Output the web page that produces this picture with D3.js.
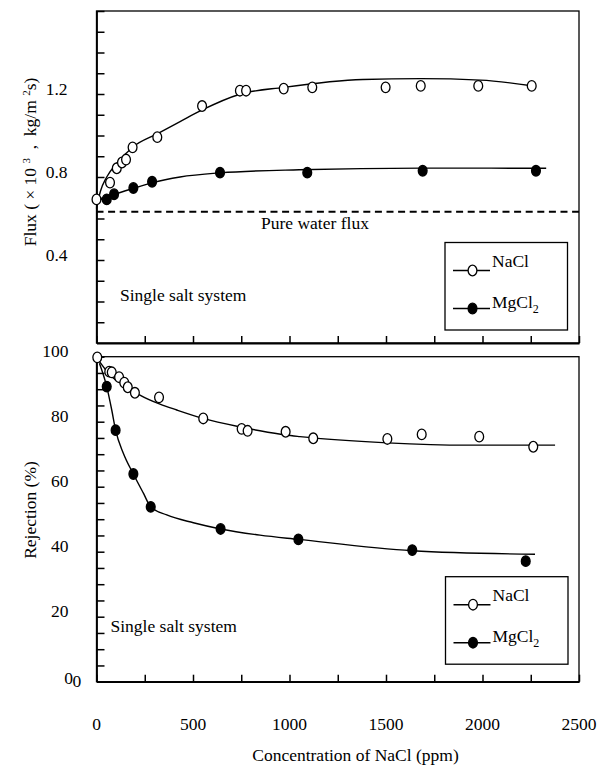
<!DOCTYPE html>
<html>
<head>
<meta charset="utf-8">
<script src="https://cdn.jsdelivr.net/npm/d3@7"></script>
<style>
  body { margin: 0; background: #fff; }
  text { font-family: "Liberation Serif", "Times New Roman", serif; fill: #000; }
</style>
</head>
<body>
<div id="body"></div>
<script>
// ---------- data ----------
var xTicks = [0, 500, 1000, 1500, 2000, 2500];
var fluxTicks = [0.4, 0.8, 1.2];
var rejTicks = [0, 20, 40, 60, 80, 100];

// flux, NaCl (open circles)
var fluxNaClConc = [0, 70, 105, 132, 153, 187, 315, 547, 743, 775, 970, 1118, 1498, 1680, 1978, 2255];
var fluxNaCl = [0.692, 0.773, 0.842, 0.87, 0.884, 0.943, 0.992, 1.142, 1.216, 1.216, 1.226, 1.232, 1.232, 1.239, 1.239, 1.239];
// flux, MgCl2 (filled circles)
var fluxMgConc = [53, 91, 191, 288, 640, 1092, 1690, 2277];
var fluxMg = [0.692, 0.717, 0.747, 0.777, 0.821, 0.821, 0.830, 0.830];
// fitted curves (flux)
var fluxNaClFitConc = [0, 20, 53, 105, 191, 312, 433, 547, 743, 970, 1380, 1680, 1990, 2255];
var fluxNaClFit = [0.649, 0.73, 0.80, 0.866, 0.946, 1.007, 1.067, 1.123, 1.199, 1.232, 1.27, 1.274, 1.267, 1.24];
var fluxMgFitConc = [20, 91, 191, 288, 433, 640, 1050, 1690, 2330];
var fluxMgFit = [0.69, 0.715, 0.745, 0.772, 0.80, 0.82, 0.835, 0.843, 0.842];
var pureWaterFlux = 0.633;

// rejection, NaCl (open circles)
var rejNaClConc = [4, 66, 79, 117, 144, 162, 199, 324, 553, 752, 783, 980, 1123, 1507, 1685, 1983, 2263];
var rejNaCl = [99.8, 95.4, 95.2, 93.7, 92, 90.6, 88.9, 87.5, 81.0, 77.8, 77.2, 76.9, 74.9, 74.7, 76.1, 75.4, 72.3];
// rejection, MgCl2 (filled circles)
var rejMgConc = [53, 99, 191, 281, 643, 1046, 1636, 2224];
var rejMg = [90.8, 77.4, 63.9, 53.8, 47.0, 43.8, 40.5, 37.1];
// fitted curves (rejection)
var rejNaClFitConc = [4, 70, 156, 225, 329, 416, 553, 752, 847, 980, 1054, 1507, 1918, 2376];
var rejNaClFit = [99.5, 94.4, 90.8, 88.2, 85.4, 83.6, 81.0, 78.3, 77.2, 75.9, 75.4, 73.5, 72.8, 72.8];
var rejMgFitConc = [15, 53, 79, 99, 139, 191, 243, 281, 364, 502, 643, 847, 1046, 1636, 2272];
var rejMgFit = [98.0, 90.8, 83.6, 77.4, 70.3, 63.9, 58.0, 53.8, 51.3, 48.9, 47.0, 45.1, 43.8, 40.3, 39.2];

var seriesNames = ["NaCl", "MgCl"];

// ---------- setup ----------
var width = 599;
var height = 765;
var fontSize = 17.5;
var axisWidth = 1.8;
var frameWidth = 1.3;

var svg = d3
  .select("#body")
  .append("svg")
  .attr("width", width)
  .attr("height", height)
  .style("display", "block");

svg.append("rect").attr("width", width).attr("height", height).attr("fill", "#fff");

var x = d3.scaleLinear().domain([0, 2500]).range([96.5, 579]);
var yFlux = d3.scaleLinear().domain([0, 1.6]).range([343, 11]);
var yRej = d3.scaleLinear().domain([0, 100]).range([681.7, 356.7]);

var zip = function (xs, ys) {
  return xs.map(function (v, i) { return [v, ys[i]]; });
};

function drawPanel(g, y, yMinor) {
  // frame
  g.append("rect")
    .attr("x", x.range()[0])
    .attr("y", y.range()[1])
    .attr("width", x.range()[1] - x.range()[0])
    .attr("height", y.range()[0] - y.range()[1])
    .attr("fill", "none")
    .attr("stroke", "#000")
    .attr("stroke-width", frameWidth);

  // left axis, ticks pointing inside
  var left = g.append("g")
    .attr("transform", "translate(" + x.range()[0] + ",0)")
    .call(d3.axisRight(y).tickValues(yMinor).tickSize(8).tickSizeOuter(0).tickFormat(""));
  // bottom axis, ticks pointing up
  var bottom = g.append("g")
    .attr("transform", "translate(0," + y.range()[0] + ")")
    .call(d3.axisTop(x).tickValues(d3.range(0, 2501, 250)).tickSize(7).tickSizeOuter(0).tickFormat(""));

  [left, bottom].forEach(function (a) {
    a.select(".domain").attr("stroke-width", axisWidth);
    a.selectAll(".tick line").attr("stroke-width", 1.5);
  });
}

function drawSeries(g, y, fitX, fitY, ptX, ptY, filled) {
  var line = d3.line()
    .x(function (d) { return x(d[0]); })
    .y(function (d) { return y(d[1]); })
    .curve(d3.curveMonotoneX);

  g.append("path")
    .datum(zip(fitX, fitY))
    .attr("d", line)
    .attr("fill", "none")
    .attr("stroke", "#000")
    .attr("stroke-width", 1.4);

  g.selectAll(null)
    .data(zip(ptX, ptY))
    .enter()
    .append("ellipse")
    .attr("cx", function (d) { return x(d[0]); })
    .attr("cy", function (d) { return y(d[1]); })
    .attr("rx", 4.4)
    .attr("ry", 5.3)
    .attr("fill", filled ? "#000" : "#fff")
    .attr("stroke", "#000")
    .attr("stroke-width", 1.3);
}

function drawLegend(g, bx, by) {
  g.append("rect")
    .attr("x", bx).attr("y", by)
    .attr("width", 122.5).attr("height", 87.5)
    .attr("fill", "#fff")
    .attr("stroke", "#000")
    .attr("stroke-width", frameWidth);

  seriesNames.forEach(function (name, i) {
    var my = by + (i === 0 ? 28 : 66);
    g.append("line")
      .attr("x1", bx + 8).attr("x2", bx + 45)
      .attr("y1", my).attr("y2", my)
      .attr("stroke", "#000").attr("stroke-width", 1.4);
    g.append("ellipse")
      .attr("cx", bx + 27.5).attr("cy", my)
      .attr("rx", 4.4).attr("ry", 5.3)
      .attr("fill", i === 0 ? "#fff" : "#000")
      .attr("stroke", "#000").attr("stroke-width", 1.3);
    var t = g.append("text")
      .attr("x", bx + 47)
      .attr("y", by + (i === 0 ? 24.5 : 65))
      .attr("font-size", fontSize)
      .text(name);
    if (i === 1) {
      t.append("tspan").attr("font-size", 12).attr("dy", 5).text("2");
    }
  });
}

//======================= FLUX PANEL ============================

var fluxPanel = svg.append("g");
drawPanel(fluxPanel, yFlux, d3.range(1, 17).map(function (d) { return d / 10; }));

fluxPanel.selectAll(".ylab")
  .data(fluxTicks)
  .enter()
  .append("text")
  .attr("x", 67.5)
  .attr("y", function (d) { return yFlux(d) + 1; })
  .attr("text-anchor", "end")
  .attr("font-size", fontSize)
  .text(function (d) { return d3.format(".1f")(d); });

// pure water flux line
fluxPanel.append("line")
  .attr("x1", x(0)).attr("x2", x(2500))
  .attr("y1", yFlux(pureWaterFlux)).attr("y2", yFlux(pureWaterFlux))
  .attr("stroke", "#000")
  .attr("stroke-width", 2)
  .attr("stroke-dasharray", "7,4.6");

fluxPanel.append("text")
  .attr("x", 261)
  .attr("y", yFlux(pureWaterFlux) + 17)
  .attr("font-size", fontSize)
  .text("Pure water flux");

drawSeries(fluxPanel, yFlux, fluxNaClFitConc, fluxNaClFit, fluxNaClConc, fluxNaCl, false);
drawSeries(fluxPanel, yFlux, fluxMgFitConc, fluxMgFit, fluxMgConc, fluxMg, true);

fluxPanel.append("text")
  .attr("x", 120)
  .attr("y", 300.5)
  .attr("font-size", fontSize)
  .text("Single salt system");

drawLegend(fluxPanel, 445, 242.5);

// y title, flux
var fluxTitle = fluxPanel.append("text")
  .attr("transform", "translate(35.5,162) rotate(-90)")
  .attr("text-anchor", "middle")
  .attr("font-size", fontSize)
  .style("white-space", "pre");
fluxTitle.append("tspan").text("Flux ( \u00d7 10 ");
fluxTitle.append("tspan").attr("font-size", 11).attr("dy", -6).text("3");
fluxTitle.append("tspan").attr("dy", 6).text("  ,  kg/m ");
fluxTitle.append("tspan").attr("font-size", 11).attr("dy", -6).text("2");
fluxTitle.append("tspan").attr("dy", 6).text("s)");

//======================= REJECTION PANEL ============================

var rejPanel = svg.append("g");
drawPanel(rejPanel, yRej, d3.range(5, 101, 5));

rejPanel.selectAll(".ylab")
  .data(rejTicks)
  .enter()
  .append("text")
  .attr("x", function (d) { return d === 0 ? 73 : 68.5; })
  .attr("y", function (d) { return yRej(d) + (d === 0 ? 2.5 : 0.5); })
  .attr("text-anchor", "end")
  .attr("font-size", fontSize)
  .text(function (d) { return d; });

// the second zero printed next to the y-axis zero
rejPanel.append("text")
  .attr("x", 72.5)
  .attr("y", yRej(0) + 5.5)
  .attr("font-size", fontSize)
  .text("0");

drawSeries(rejPanel, yRej, rejNaClFitConc, rejNaClFit, rejNaClConc, rejNaCl, false);
drawSeries(rejPanel, yRej, rejMgFitConc, rejMgFit, rejMgConc, rejMg, true);

rejPanel.append("text")
  .attr("x", 110.5)
  .attr("y", 632)
  .attr("font-size", fontSize)
  .text("Single salt system");

drawLegend(rejPanel, 445.5, 576.7);

rejPanel.append("text")
  .attr("transform", "translate(35.5,510) rotate(-90)")
  .attr("text-anchor", "middle")
  .attr("font-size", fontSize)
  .text("Rejection (%)");

// x tick labels
rejPanel.selectAll(".xlab")
  .data(xTicks)
  .enter()
  .append("text")
  .attr("x", function (d) { return x(d); })
  .attr("y", 730)
  .attr("text-anchor", "middle")
  .attr("font-size", fontSize)
  .text(function (d) { return d; });

rejPanel.append("text")
  .attr("x", 355.5)
  .attr("y", 761)
  .attr("text-anchor", "middle")
  .attr("font-size", fontSize)
  .text("Concentration of NaCl (ppm)");
</script>
</body>
</html>
